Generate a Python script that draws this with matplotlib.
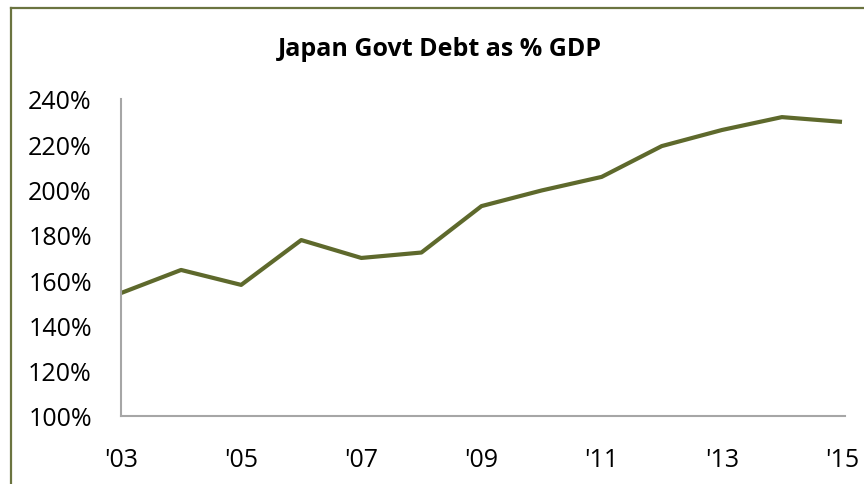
import matplotlib

matplotlib.use("Agg")
import matplotlib.pyplot as plt
from matplotlib.lines import Line2D

# -----------------------------
# Data
# -----------------------------
years = [2003, 2004, 2005, 2006, 2007, 2008, 2009, 2010, 2011, 2012, 2013, 2014, 2015]
debt_pct = [154.3, 164.5, 157.9, 177.7, 169.8, 172.2, 192.7, 199.6, 205.6, 219.2, 226.3, 232.0, 229.9]
tick_years = [2003, 2005, 2007, 2009, 2011, 2013, 2015]
tick_labels = ["'03", "'05", "'07", "'09", "'11", "'13", "'15"]
y_ticks = [100, 120, 140, 160, 180, 200, 220, 240]

plt.rcParams["font.family"] = ["Open Sans", "DejaVu Sans"]

fig = plt.figure(figsize=(8.64, 4.85), dpi=100)
ax = fig.add_axes([121 / 864, 1 - 417 / 485, (845 - 121) / 864, (417 - 100) / 485])

ax.plot(years, debt_pct, color="#5e692c", linewidth=3, solid_capstyle="butt")

ax.set_xlim(2003, 2015.05)
ax.set_ylim(100, 240)
ax.set_xticks(tick_years)
ax.set_xticklabels(tick_labels)
ax.set_yticks(y_ticks)
ax.set_yticklabels([f"{v}%" for v in y_ticks])
ax.tick_params(axis="both", length=0, labelsize=18, colors="black")
ax.tick_params(axis="y", pad=21)
ax.tick_params(axis="x", pad=22)

for side in ["top", "right"]:
    ax.spines[side].set_visible(False)
for side in ["left", "bottom"]:
    ax.spines[side].set_color("#a6a6a6")
    ax.spines[side].set_linewidth(1.5)

fig.text(440 / 864, 1 - 49 / 485, "Japan Govt Debt as % GDP",
         ha="center", va="center", fontsize=18, fontweight="bold")

# olive frame (top and left edges visible)
border = "#6b7440"
fig.add_artist(Line2D([11 / 864, 1.0], [1 - 9 / 485, 1 - 9 / 485], transform=fig.transFigure,
                      color=border, linewidth=1.6))
fig.add_artist(Line2D([11 / 864, 11 / 864], [0.0, 1 - 9 / 485], transform=fig.transFigure,
                      color=border, linewidth=1.6))

fig.savefig("out.png", dpi=100)
plt.close()
